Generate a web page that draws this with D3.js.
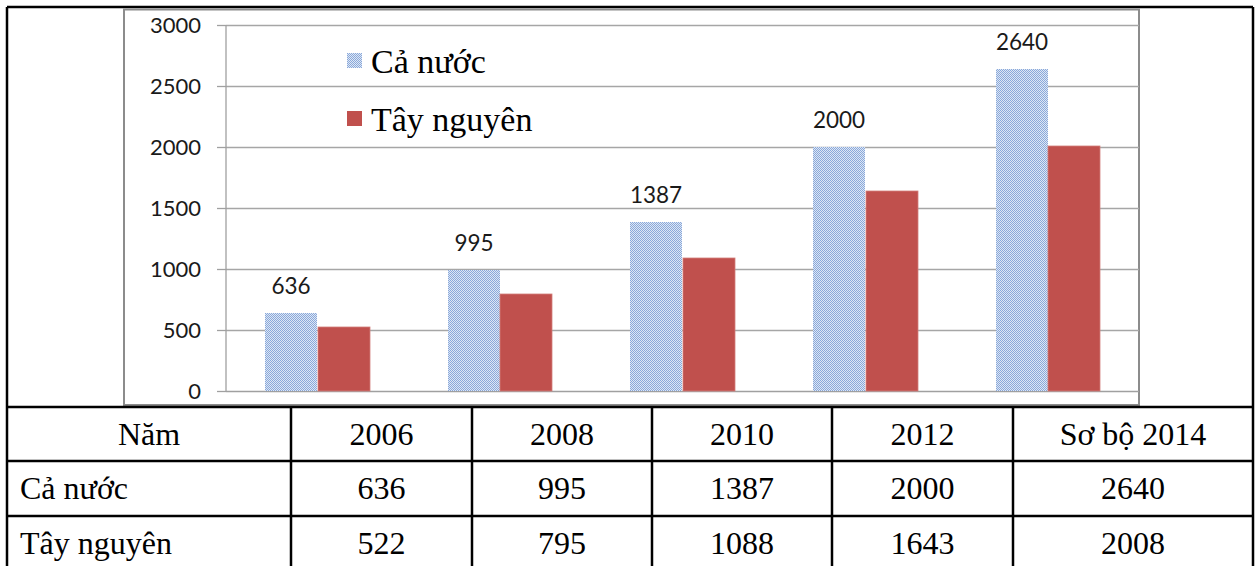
<!DOCTYPE html>
<html>
<head>
<meta charset="utf-8">
<script src="https://cdn.jsdelivr.net/npm/d3@7"></script>
<style>
  body { margin: 0; background: #fff; }
</style>
</head>
<body>
<div id="chart"></div>
<script>
// data
var years = ["2006", "2008", "2010", "2012", "Sơ bộ 2014"];
var caNuoc = [636, 995, 1387, 2000, 2640];
var tayNguyen = [522, 795, 1088, 1643, 2008];
var seriesNames = ["Cả nước", "Tây nguyên"];
var yTicks = [0, 500, 1000, 1500, 2000, 2500, 3000];
var tableHeader = "Năm";

var W = 1256, H = 566;
var plot = {left: 226, right: 1139, top: 25, bottom: 391};

var svg = d3.select("#chart").append("svg")
    .attr("width", W)
    .attr("height", H);

var defs = svg.append("defs");
var pat = defs.append("pattern")
    .attr("id", "dots")
    .attr("patternUnits", "userSpaceOnUse")
    .attr("width", 2)
    .attr("height", 2);
pat.append("rect").attr("width", 2).attr("height", 2).attr("fill", "#dde7f5");
pat.append("rect").attr("width", 1).attr("height", 1).attr("fill", "#8aa8da");
pat.append("rect").attr("x", 1).attr("y", 1).attr("width", 1).attr("height", 1).attr("fill", "#8aa8da");

var colors = ["url(#dots)", "#c0504d"];

// scales
var x0 = d3.scaleBand()
    .domain(years)
    .range([plot.left, plot.right])
    .padding(0);

var x1 = d3.scaleBand()
    .domain(seriesNames)
    .range([0, x0.bandwidth()])
    .paddingInner(0.02)
    .paddingOuter(0.745);

var y = d3.scaleLinear()
    .domain([0, 3000])
    .range([plot.bottom, plot.top]);

// outer black line on top
svg.append("line")
    .attr("x1", 7).attr("x2", 1253).attr("y1", 7).attr("y2", 7)
    .attr("stroke", "#000").attr("stroke-width", 2.5);

// chart frame
svg.append("rect")
    .attr("x", 124).attr("y", 9.5)
    .attr("width", 1139 - 124).attr("height", 405 - 9.5)
    .attr("fill", "#fff")
    .attr("stroke", "#8c8c8c")
    .attr("stroke-width", 2);

// gridlines
svg.append("g")
    .selectAll("line")
    .data(yTicks.filter(function (d) { return d > 0; }))
    .enter().append("line")
    .attr("x1", plot.left).attr("x2", plot.right)
    .attr("y1", function (d) { return Math.round(y(d)) + 0.5; })
    .attr("y2", function (d) { return Math.round(y(d)) + 0.5; })
    .attr("stroke", "#a6a6a6")
    .attr("stroke-width", 1.3);

// y axis
var yAxis = svg.append("g")
    .attr("transform", "translate(" + plot.left + ",0)")
    .call(d3.axisLeft(y).tickValues(yTicks).tickFormat(d3.format("d")).tickSize(9).tickPadding(16));
yAxis.selectAll("path, line").attr("stroke", "#a0a0a0").attr("stroke-width", 1.3);
yAxis.select(".domain").attr("d", "M0," + plot.top + "V" + plot.bottom);
yAxis.selectAll("text")
    .attr("font-family", "Lato, sans-serif")
    .attr("font-size", 22)
    .attr("fill", "#1a1a1a");

// baseline
svg.append("line")
    .attr("x1", plot.left).attr("x2", plot.right)
    .attr("y1", Math.round(y(0)) + 0.5).attr("y2", Math.round(y(0)) + 0.5)
    .attr("stroke", "#a0a0a0").attr("stroke-width", 1.3);

// bars (absolute, rounded coords so the dot pattern stays crisp)
function barX(i, s) { return Math.round(x0(years[i]) + x1(seriesNames[s])); }
var bw = Math.round(x1.bandwidth());
var bars = svg.append("g");

bars.selectAll("rect.cn")
    .data(caNuoc)
    .enter().append("rect")
    .attr("x", function (d, i) { return barX(i, 0); })
    .attr("width", bw)
    .attr("y", function (d) { return Math.round(y(d)); })
    .attr("height", function (d) { return Math.round(y(0)) - Math.round(y(d)); })
    .attr("fill", colors[0]);

bars.selectAll("rect.tn")
    .data(tayNguyen)
    .enter().append("rect")
    .attr("x", function (d, i) { return barX(i, 1); })
    .attr("width", bw)
    .attr("y", function (d) { return Math.round(y(d)); })
    .attr("height", function (d) { return Math.round(y(0)) - Math.round(y(d)); })
    .attr("fill", colors[1])
    .attr("stroke", "#d27e7b")
    .attr("stroke-width", 0.8);

bars.selectAll("text")
    .data(caNuoc)
    .enter().append("text")
    .attr("x", function (d, i) { return barX(i, 0) + bw / 2; })
    .attr("y", function (d) { return y(d) - 19; })
    .attr("text-anchor", "middle")
    .attr("font-family", "Lato, sans-serif")
    .attr("font-size", 22.5)
    .attr("fill", "#1a1a1a")
    .text(function (d) { return d; });

// legend
var legend = svg.append("g");
seriesNames.forEach(function (name, i) {
    var ly = 60 + i * 58;
    legend.append("rect")
        .attr("x", 347).attr("y", ly - 7)
        .attr("width", 15).attr("height", 15)
        .attr("fill", colors[i]);
    legend.append("text")
        .attr("x", 371).attr("y", ly + 13)
        .attr("font-family", "'Liberation Serif', 'Times New Roman', serif")
        .attr("font-size", 34)
        .attr("fill", "#000")
        .text(name);
});

// table
var colX = [7, 291, 472, 652, 832, 1013, 1253];
var rowY = [407, 461, 516, 600];
var rows = [[tableHeader].concat(years), [seriesNames[0]].concat(caNuoc), [seriesNames[1]].concat(tayNguyen)];

var tg = svg.append("g");
tg.selectAll("line.h")
    .data(rowY.slice(0, 3))
    .enter().append("line")
    .attr("x1", 7).attr("x2", 1253)
    .attr("y1", function (d) { return d; }).attr("y2", function (d) { return d; })
    .attr("stroke", "#000").attr("stroke-width", 2.5);

tg.selectAll("line.v")
    .data(colX)
    .enter().append("line")
    .attr("x1", function (d) { return d; }).attr("x2", function (d) { return d; })
    .attr("y1", function (d, i) { return (i === 0 || i === colX.length - 1) ? 7 : 407; })
    .attr("y2", H + 5)
    .attr("stroke", "#000").attr("stroke-width", 2.5);

rows.forEach(function (row, r) {
    row.forEach(function (cell, c) {
        var left = (c === 0 && r > 0);
        tg.append("text")
            .attr("x", left ? 20 : (colX[c] + colX[c + 1]) / 2)
            .attr("y", rowY[r] + 38)
            .attr("text-anchor", left ? "start" : "middle")
            .attr("font-family", "'Liberation Serif', 'Times New Roman', serif")
            .attr("font-size", 32)
            .attr("fill", "#000")
            .text(cell);
    });
});
</script>
</body>
</html>
